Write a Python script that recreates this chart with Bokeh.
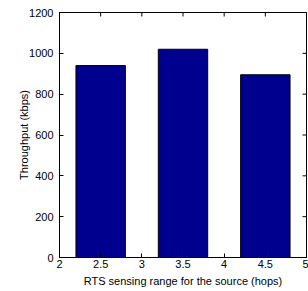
import math
from bokeh.plotting import figure
from bokeh.models import FixedTicker, Range1d
from bokeh.embed import file_html
from bokeh.resources import INLINE

# data
ranges_hops = [2.5, 3.5, 4.5]
throughput = [940, 1020, 895]
x_ticks = [2, 2.5, 3, 3.5, 4, 4.5, 5]
x_tick_labels = ["2", "2.5", "3", "3.5", "4", "4.5", "5"]
y_ticks = [0, 200, 400, 600, 800, 1000, 1200]
x_min, x_max = 2, 5
y_min, y_max = 0, 1200

FONT = "Liberation Sans"
FS = "11px"

p = figure(width=308, height=291, output_backend="svg", toolbar_location=None,
           x_range=Range1d(x_min, x_max), y_range=Range1d(y_min, y_max),
           min_border_left=59, min_border_right=2, min_border_top=12, min_border_bottom=34)

p.vbar(x=ranges_hops, top=throughput, width=0.6, fill_color="#00008F",
       line_color="black", line_width=1)

# box ticks on top and right (frame-clipped dashes centred on the border)
p.scatter(x=x_ticks, y=[y_max] * len(x_ticks), marker="dash", angle=math.pi / 2,
          size=8, line_color="black", line_width=1)
p.scatter(x=[x_max] * len(y_ticks), y=y_ticks, marker="dash",
          size=8, line_color="black", line_width=1)

p.grid.visible = False
p.outline_line_color = "black"
p.outline_line_alpha = 1
p.background_fill_color = "white"

for ax in (p.xaxis[0], p.yaxis[0]):
    ax.major_tick_in = 4
    ax.major_tick_out = 0
    ax.minor_tick_in = 0
    ax.minor_tick_out = 0
    ax.major_label_text_font = FONT
    ax.major_label_text_font_size = FS
    ax.axis_label_text_font = FONT
    ax.axis_label_text_font_size = FS
    ax.axis_label_text_font_style = "normal"
    ax.axis_label_text_color = "black"
    ax.axis_line_color = "black"
    ax.major_tick_line_color = "black"
    ax.major_label_text_color = "black"

p.xaxis[0].ticker = FixedTicker(ticks=x_ticks)
p.xaxis[0].major_label_overrides = {t: l for t, l in zip(x_ticks, x_tick_labels)}
p.xaxis[0].axis_label = "RTS sensing range for the source (hops)"
p.xaxis[0].major_label_standoff = 2
p.xaxis[0].axis_label_standoff = 4

p.yaxis[0].ticker = FixedTicker(ticks=y_ticks)
p.yaxis[0].axis_label = "Throughput (kbps)"
p.yaxis[0].major_label_standoff = 6
p.yaxis[0].axis_label_standoff = -4

open("out.html", "w").write(file_html(p, INLINE))
